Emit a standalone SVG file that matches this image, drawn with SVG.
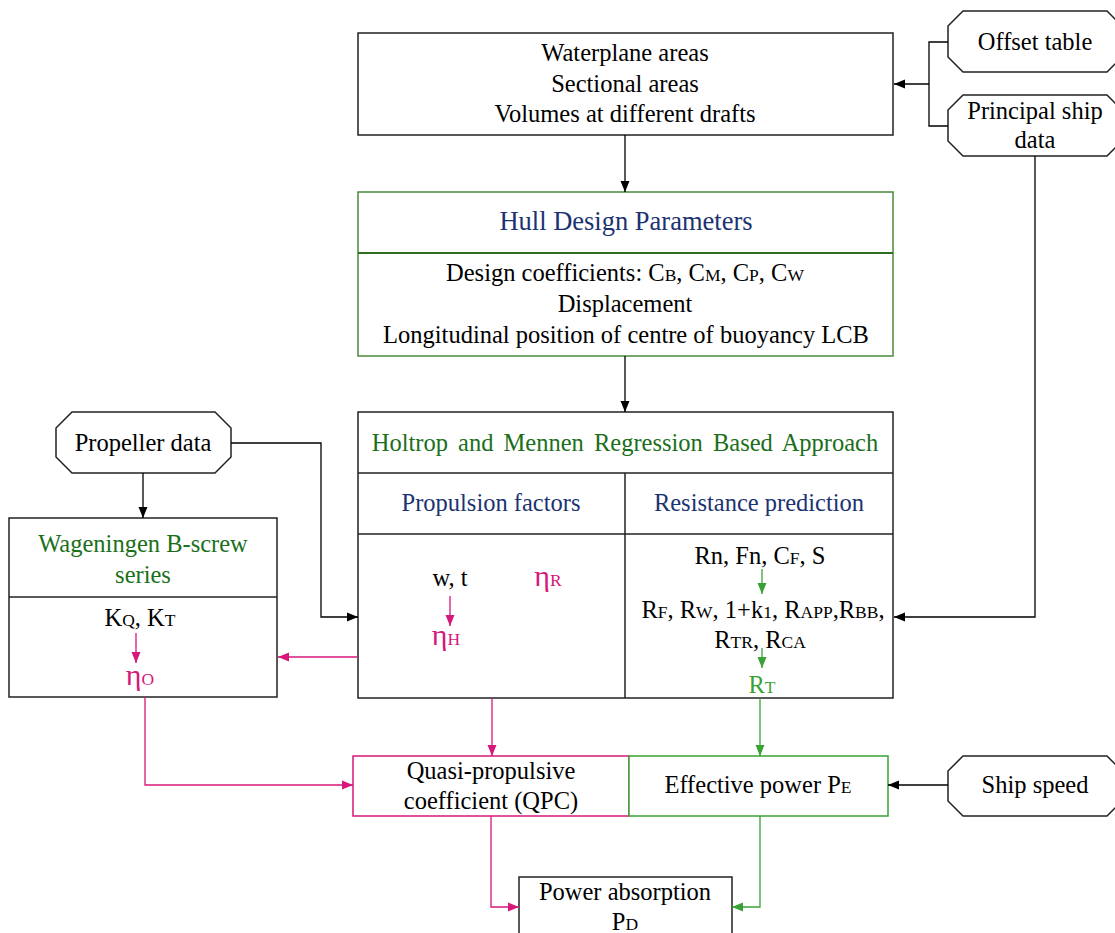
<svg xmlns="http://www.w3.org/2000/svg" width="1115" height="933" viewBox="0 0 1115 933">
  <style>
    text { font-family: "Liberation Serif", "Times New Roman", serif; font-size: 24.5px; fill: #000; text-anchor: middle; }
    .s { font-size: 17.5px; }
    .eta { font-size: 30px; }
    .box { fill: #fff; stroke: #222; stroke-width: 1.5; }
    .gbox { fill: #fff; stroke: #4a8a3a; stroke-width: 1.5; }
    .mbox { fill: #fff; stroke: #d6187a; stroke-width: 1.5; }
    .ebox { fill: #fff; stroke: #3aa235; stroke-width: 1.5; }
    .div { stroke: #222; stroke-width: 1.5; fill: none; }
    .gdiv { stroke: #2f6f20; stroke-width: 2; fill: none; }
    .blue { fill: #1c3372; }
    .dgreen { fill: #1b6f1b; }
    .mag { fill: #d6187a; }
    .lgreen { fill: #3aa235; }
    .k { stroke: #000; stroke-width: 1.3; fill: none; }
    .m { stroke: #d6187a; stroke-width: 1.3; fill: none; }
    .g { stroke: #3aa235; stroke-width: 1.3; fill: none; }
  </style>
  <defs>
    <marker id="ak" markerUnits="userSpaceOnUse" markerWidth="12" markerHeight="10" refX="11" refY="5" orient="auto">
      <path d="M0,0.5 L11,5 L0,9.5 Z" fill="#000"/>
    </marker>
    <marker id="am" markerUnits="userSpaceOnUse" markerWidth="12" markerHeight="10" refX="11" refY="5" orient="auto">
      <path d="M0,0.5 L11,5 L0,9.5 Z" fill="#d6187a"/>
    </marker>
    <marker id="ag" markerUnits="userSpaceOnUse" markerWidth="12" markerHeight="10" refX="11" refY="5" orient="auto">
      <path d="M0,0.5 L11,5 L0,9.5 Z" fill="#3aa235"/>
    </marker>
  </defs>

  <!-- input data -->
  <g id="offset-table">
    <polygon class="box" points="963,11 1107,11 1122,26 1122,57 1107,72 963,72 948,57 948,26"/>
    <text x="1035" y="50">Offset table</text>
  </g>
  <g id="principal-ship-data">
    <polygon class="box" points="963,95 1107,95 1122,110 1122,141 1107,156 963,156 948,141 948,110"/>
    <text x="1035" y="119">Principal ship</text>
    <text x="1035" y="148">data</text>
  </g>

  <g id="areas-volumes">
    <rect class="box" x="358" y="33" width="535" height="102"/>
    <text x="625" y="61">Waterplane areas</text>
    <text x="625" y="92">Sectional areas</text>
    <text x="625" y="122">Volumes at different drafts</text>
  </g>

  <g id="hull-design">
    <rect class="gbox" x="358" y="192" width="535" height="164"/>
    <line class="gdiv" x1="358" y1="253" x2="893" y2="253"/>
    <text class="blue" x="626" y="230" style="font-size:26.5px">Hull Design Parameters</text>
    <text x="625" y="281">Design coefficients: C<tspan class="s">B</tspan>, C<tspan class="s">M</tspan>, C<tspan class="s">P</tspan>, C<tspan class="s">W</tspan></text>
    <text x="625" y="312">Displacement</text>
    <text x="626" y="343">Longitudinal position of centre of buoyancy LCB</text>
  </g>

  <g id="holtrop-mennen">
    <rect class="box" x="358" y="412" width="535" height="286"/>
    <line class="div" x1="358" y1="473" x2="893" y2="473"/>
    <line class="div" x1="358" y1="534" x2="893" y2="534"/>
    <line class="div" x1="625" y1="473" x2="625" y2="698"/>
    <text class="dgreen" x="625" y="451" word-spacing="4">Holtrop and Mennen Regression Based Approach</text>
    <text class="blue" x="491" y="511">Propulsion factors</text>
    <text class="blue" x="759" y="511">Resistance prediction</text>
    <text x="450" y="586">w, t</text>
    <text class="mag" x="548" y="586"><tspan class="eta">η</tspan><tspan class="s">R</tspan></text>
    <text class="mag" x="446" y="645"><tspan class="eta">η</tspan><tspan class="s">H</tspan></text>
    <text x="760" y="564">Rn, Fn, C<tspan class="s">F</tspan>, S</text>
    <text x="763" y="618">R<tspan class="s">F</tspan>, R<tspan class="s">W</tspan>, 1+k<tspan class="s">1</tspan>, R<tspan class="s">APP</tspan>,R<tspan class="s">BB</tspan>,</text>
    <text x="760" y="648">R<tspan class="s">TR</tspan>, R<tspan class="s">CA</tspan></text>
    <text class="lgreen" x="762" y="693">R<tspan class="s">T</tspan></text>
  </g>

  <g id="propeller-data">
    <polygon class="box" points="72,412 215,412 231,428 231,457 215,473 72,473 56,457 56,428"/>
    <text x="143" y="451">Propeller data</text>
  </g>

  <g id="wageningen">
    <rect class="box" x="9" y="518" width="268" height="179"/>
    <line class="div" x1="9" y1="597" x2="277" y2="597"/>
    <text class="dgreen" x="143" y="552">Wageningen B-screw</text>
    <text class="dgreen" x="143" y="583">series</text>
    <text x="140" y="626">K<tspan class="s">Q</tspan>, K<tspan class="s">T</tspan></text>
    <text class="mag" x="140" y="685"><tspan class="eta">η</tspan><tspan class="s">O</tspan></text>
  </g>

  <g id="qpc">
    <rect class="mbox" x="353" y="756" width="276" height="60"/>
    <text x="491" y="779">Quasi-propulsive</text>
    <text x="491" y="809">coefficient (QPC)</text>
  </g>

  <g id="effective-power">
    <rect class="ebox" x="629" y="756" width="259" height="60"/>
    <text x="758" y="793">Effective power P<tspan class="s">E</tspan></text>
  </g>

  <g id="ship-speed">
    <polygon class="box" points="963,756 1107,756 1122,771 1122,801 1107,816 963,816 948,801 948,771"/>
    <text x="1035" y="793">Ship speed</text>
  </g>

  <g id="power-absorption">
    <rect class="box" x="519" y="877" width="213" height="70"/>
    <text x="625" y="900">Power absorption</text>
    <text x="625" y="930">P<tspan class="s">D</tspan></text>
  </g>

  <!-- connectors, drawn over the boxes -->
  <g id="connectors">
    <path class="k" d="M948,42 H929 V126 H948"/>
    <path class="k" d="M929,84 H894" marker-end="url(#ak)"/>
    <path class="k" d="M625,135 V192" marker-end="url(#ak)"/>
    <path class="k" d="M625,356 V412" marker-end="url(#ak)"/>
    <path class="k" d="M1035,156 V617 H894" marker-end="url(#ak)"/>
    <path class="k" d="M231,443 H321 V617 H358" marker-end="url(#ak)"/>
    <path class="k" d="M143,473 V518" marker-end="url(#ak)"/>
    <path class="m" d="M358,657 H278" marker-end="url(#am)"/>
    <path class="m" d="M145,697 V785 H353" marker-end="url(#am)"/>
    <path class="m" d="M492,698 V756" marker-end="url(#am)"/>
    <path class="g" d="M760,698 V756" marker-end="url(#ag)"/>
    <path class="k" d="M948,785 H888" marker-end="url(#ak)"/>
    <path class="m" d="M491,816 V907 H519" marker-end="url(#am)"/>
    <path class="g" d="M760,816 V907 H732" marker-end="url(#ag)"/>
    <!-- arrows inside the cells -->
    <path class="m" d="M450,596 V626" marker-end="url(#am)"/>
    <path class="m" d="M136,633 V663" marker-end="url(#am)"/>
    <path class="g" d="M762,569 V594" marker-end="url(#ag)"/>
    <path class="g" d="M762,648 V668" marker-end="url(#ag)"/>
  </g>
</svg>
